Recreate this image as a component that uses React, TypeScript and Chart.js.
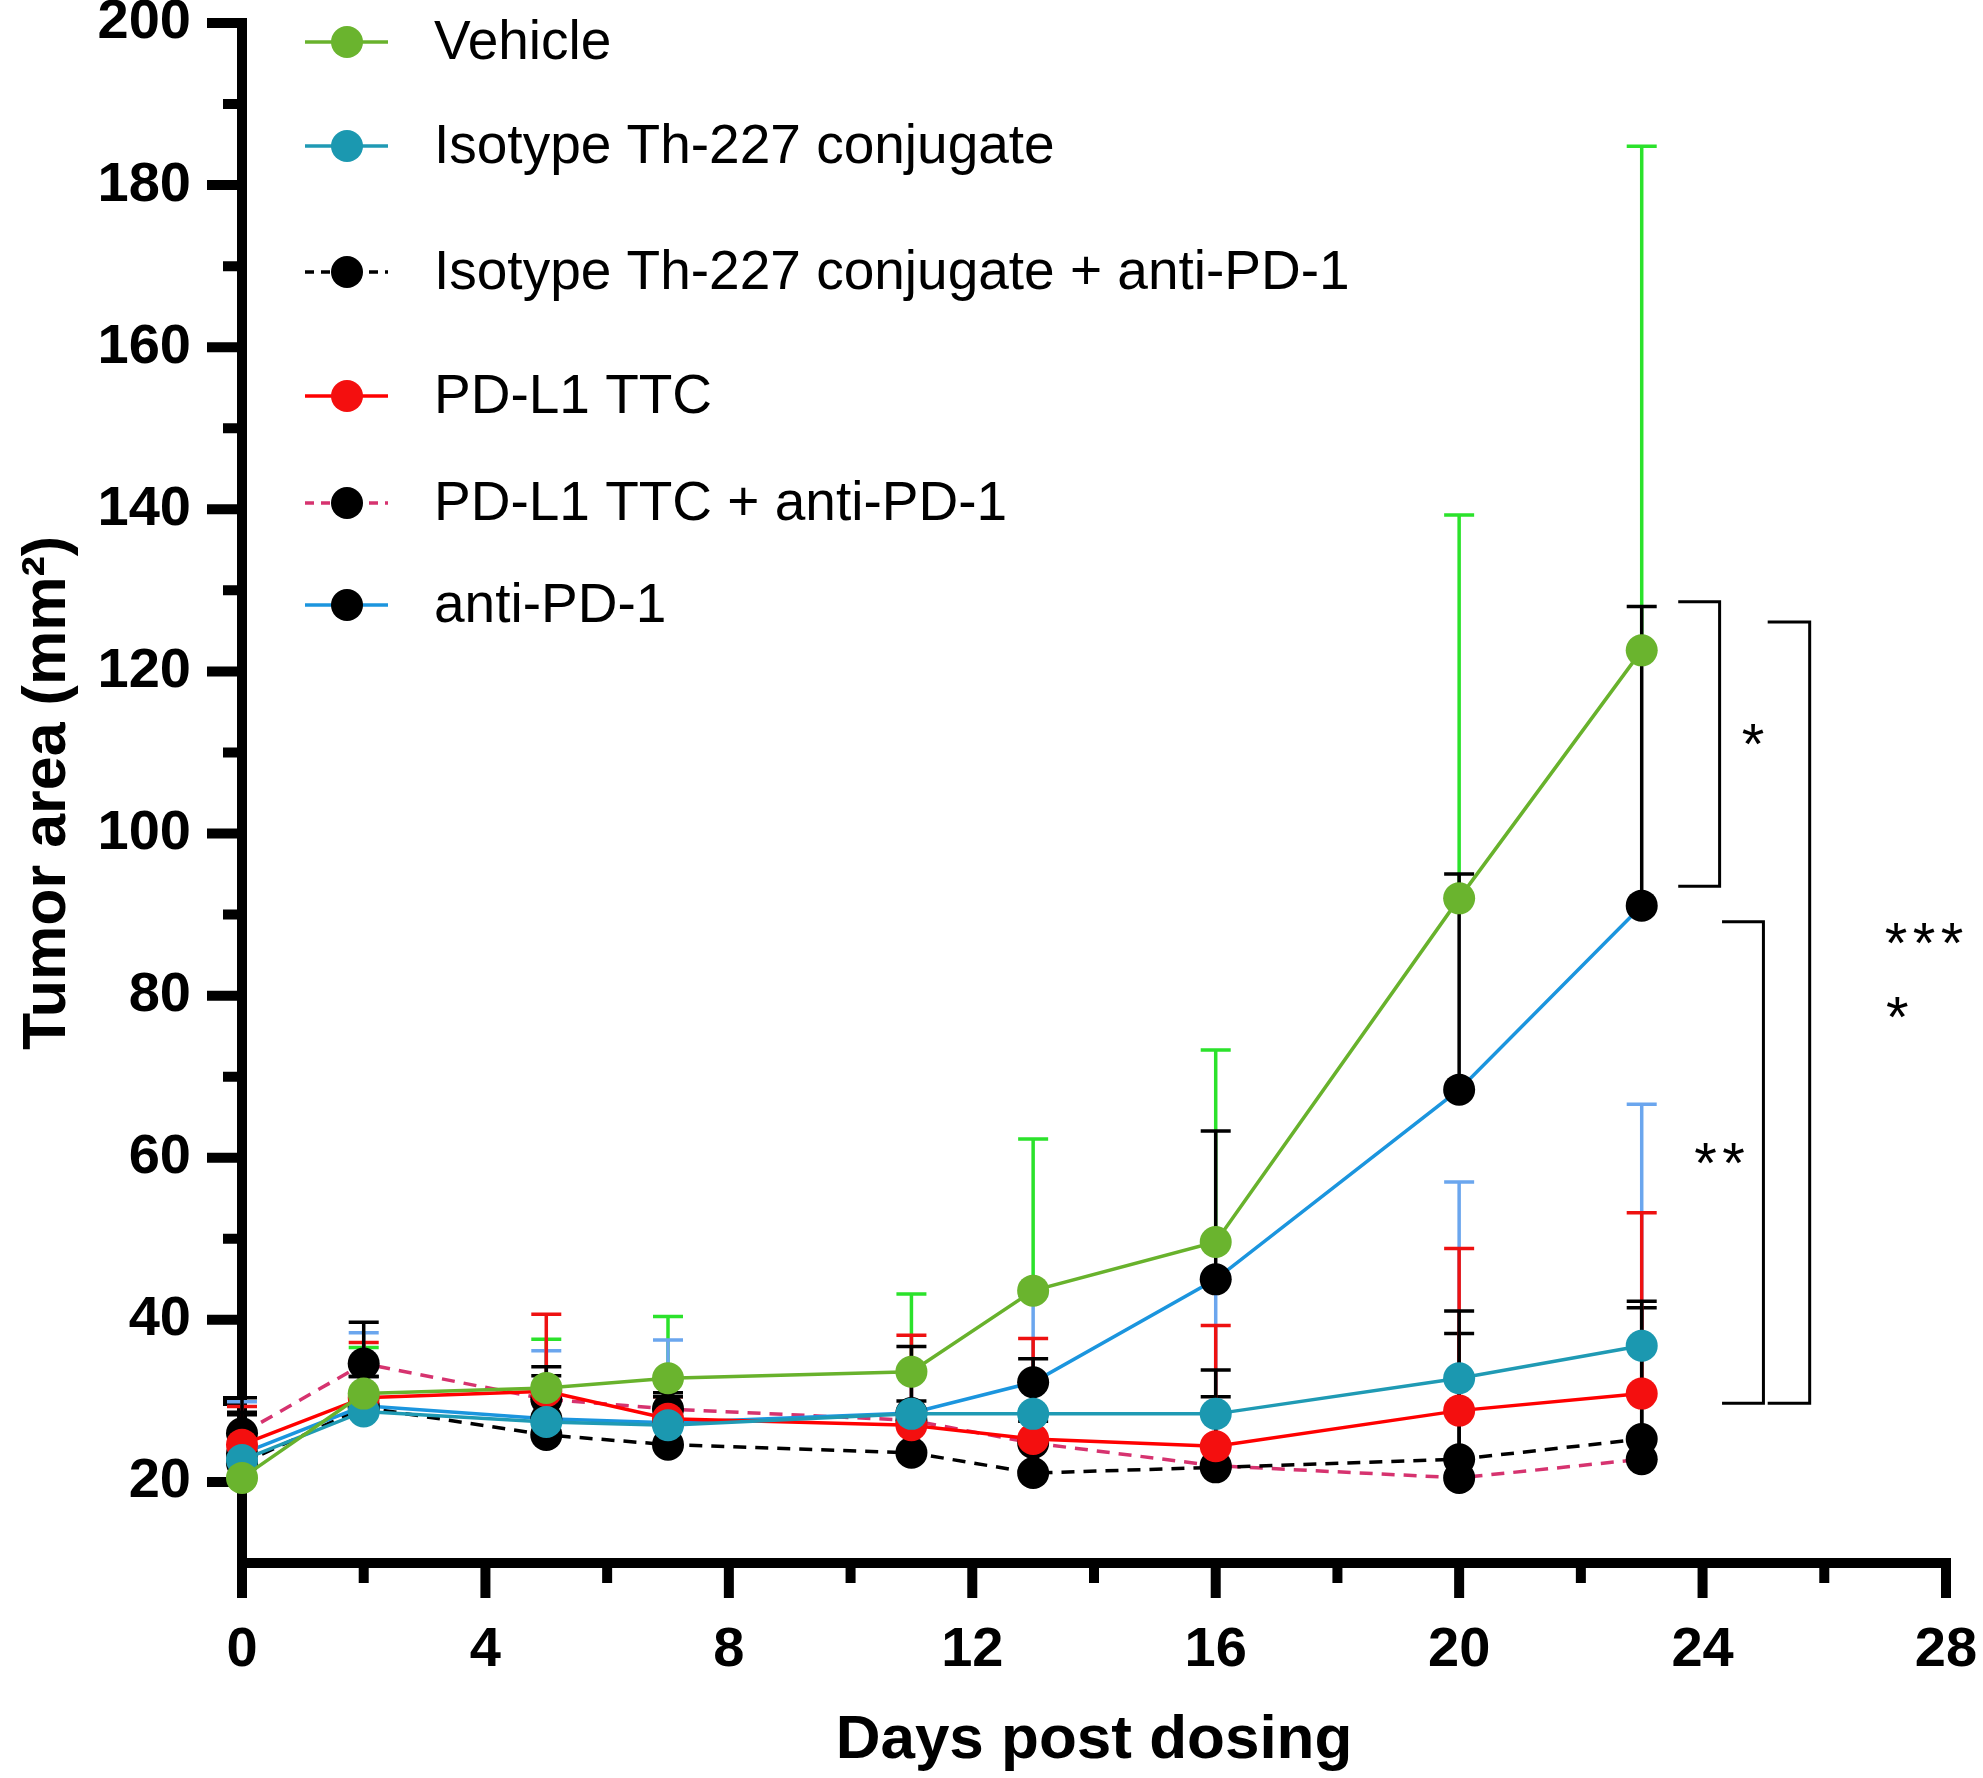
import React, { useEffect, useRef } from "react";
import { Chart, registerables } from "chart.js";

Chart.register(...registerables);

// days after dosing
const days = [0, 2, 5, 7, 11, 13, 16, 20, 23];

const seriesNames = [
  "Vehicle",
  "Isotype Th-227 conjugate",
  "Isotype Th-227 conjugate + anti-PD-1",
  "PD-L1 TTC",
  "PD-L1 TTC + anti-PD-1",
  "anti-PD-1",
];

// mean tumor area (mm2) and top of the error bar
const vehicleMean = [20.5, 30.9, 31.6, 32.8, 33.6, 43.6, 49.6, 92.0, 122.6];
const vehicleUpper = [25.4, 36.6, 37.6, 40.4, 43.2, 62.3, 73.3, 139.3, 184.8];
const isotypeMean = [22.7, 28.7, 27.4, 27.0, 28.4, 28.4, 28.4, 32.8, 36.8];
const isotypeUpper = [29.9, 38.4, 36.2, 37.5, 33.5, 43.0, 45.5, 57.0, 66.6];
const isoAntiMean = [22.3, 29.2, 25.8, 24.6, 23.6, 21.1, 21.8, 22.8, 25.3];
const isoAntiUpper = [28.3, 33.0, 33.1, 28.0, 27.0, 24.5, 30.5, 38.3, 41.5];
const ttcMean = [24.6, 30.4, 31.2, 27.8, 27.0, 25.3, 24.4, 28.8, 30.9];
const ttcUpper = [29.3, 37.2, 40.7, 30.5, 38.1, 37.7, 39.3, 48.8, 53.2];
const ttcAntiMean = [26.0, 34.6, 30.2, 29.0, 27.6, 24.8, 22.0, 20.5, 22.8];
const ttcAntiUpper = [28.6, 39.7, 34.2, 31.0, 30.0, 27.5, 33.8, 41.1, 42.3];
const antiMean = [23.5, 29.4, 27.8, 27.3, 28.5, 32.3, 45.0, 68.4, 91.1];
const antiUpper = [30.4, 33.0, 30.0, 30.5, 36.7, 35.2, 63.3, 95.0, 128.0];

const xTickValues = [0, 4, 8, 12, 16, 20, 24, 28];
const xMinorValues = [2, 6, 10, 14, 18, 22, 26];
const yTickValues = [20, 40, 60, 80, 100, 120, 140, 160, 180, 200];
const yMinorValues = [30, 50, 70, 90, 110, 130, 150, 170, 190];

// significance brackets (x in days, y in mm2) and their stars
const brackets = [
  { x1: 23.6, x2: 24.28, top: 128.6, bottom: 93.5 },
  { x1: 24.32, x2: 25.0, top: 89.1, bottom: 29.7 },
  { x1: 25.07, x2: 25.76, top: 126.1, bottom: 29.7 },
];
const stars = [
  { n: 1, x: 24.83, y: 112.7 },
  { n: 2, x: 24.28, y: 61 },
  { n: 3, x: 27.64, y: 88.1 },
  { n: 1, x: 27.2, y: 79 },
];

const FONT = "'Liberation Sans', Arial, sans-serif";

const toPoints = (vals: number[]) => days.map((d, i) => ({ x: d, y: vals[i] }));

const styles = [
  { line: "#68b22c", dot: "#6ab42e", err: "#2be22b", dash: [] as number[], mean: vehicleMean, upper: vehicleUpper, order: 0 },
  { line: "#1f9ab4", dot: "#1b98b0", err: "#6ba6ee", dash: [], mean: isotypeMean, upper: isotypeUpper, order: 1 },
  { line: "#000000", dot: "#000000", err: "#000000", dash: [13, 9], mean: isoAntiMean, upper: isoAntiUpper, order: 4 },
  { line: "#ff0000", dot: "#f40f0f", err: "#ee1111", dash: [], mean: ttcMean, upper: ttcUpper, order: 2 },
  { line: "#d6336f", dot: "#000000", err: "#000000", dash: [13, 9], mean: ttcAntiMean, upper: ttcAntiUpper, order: 5 },
  { line: "#1b95de", dot: "#000000", err: "#000000", dash: [], mean: antiMean, upper: antiUpper, order: 3 },
];

const axesAndErrors = {
  id: "axesAndErrors",
  beforeDatasetsDraw(chart: any) {
    const { ctx, chartArea, scales } = chart;
    const xs = scales.x;
    const ys = scales.y;
    ctx.save();
    ctx.strokeStyle = "#000";
    ctx.lineCap = "butt";
    // axis lines
    ctx.lineWidth = 10;
    ctx.beginPath();
    ctx.moveTo(chartArea.left, chartArea.top - 5);
    ctx.lineTo(chartArea.left, chartArea.bottom + 5);
    ctx.moveTo(chartArea.left - 5, chartArea.bottom);
    ctx.lineTo(chartArea.right + 5, chartArea.bottom);
    ctx.stroke();
    // ticks
    ctx.beginPath();
    yTickValues.forEach((v) => {
      const y = ys.getPixelForValue(v);
      ctx.moveTo(chartArea.left - 35, y);
      ctx.lineTo(chartArea.left, y);
    });
    yMinorValues.forEach((v) => {
      const y = ys.getPixelForValue(v);
      ctx.moveTo(chartArea.left - 19, y);
      ctx.lineTo(chartArea.left, y);
    });
    xTickValues.forEach((v) => {
      const x = xs.getPixelForValue(v);
      ctx.moveTo(x, chartArea.bottom);
      ctx.lineTo(x, chartArea.bottom + 35);
    });
    xMinorValues.forEach((v) => {
      const x = xs.getPixelForValue(v);
      ctx.moveTo(x, chartArea.bottom);
      ctx.lineTo(x, chartArea.bottom + 20);
    });
    ctx.stroke();
    // error bars (upper only)
    styles.forEach((s) => {
      ctx.strokeStyle = s.err;
      ctx.lineWidth = 3.5;
      ctx.beginPath();
      days.forEach((d, i) => {
        const x = xs.getPixelForValue(d);
        const y0 = ys.getPixelForValue(s.mean[i]);
        const y1 = ys.getPixelForValue(s.upper[i]);
        ctx.moveTo(x, y0);
        ctx.lineTo(x, y1);
        ctx.moveTo(x - 15, y1);
        ctx.lineTo(x + 15, y1);
      });
      ctx.stroke();
    });
    ctx.restore();
  },
  afterDraw(chart: any) {
    const { ctx, scales } = chart;
    const xs = scales.x;
    const ys = scales.y;
    ctx.save();
    // legend
    const rows = [42, 146, 272, 396, 503, 605];
    ctx.font = `55px ${FONT}`;
    ctx.textBaseline = "middle";
    ctx.textAlign = "left";
    styles.forEach((s, i) => {
      const y = rows[i];
      ctx.strokeStyle = s.line;
      ctx.lineWidth = 3.5;
      ctx.setLineDash(s.dash.length ? [9, 7] : []);
      ctx.beginPath();
      ctx.moveTo(305, y);
      ctx.lineTo(388, y);
      ctx.stroke();
      ctx.setLineDash([]);
      ctx.fillStyle = s.dot;
      ctx.beginPath();
      ctx.arc(347, y, 16, 0, Math.PI * 2);
      ctx.fill();
      ctx.fillStyle = "#000";
      ctx.fillText(seriesNames[i], 434, y + 2);
    });
    // brackets
    ctx.strokeStyle = "#000";
    ctx.lineWidth = 3;
    brackets.forEach((b) => {
      const x1 = xs.getPixelForValue(b.x1);
      const x2 = xs.getPixelForValue(b.x2);
      const yt = ys.getPixelForValue(b.top);
      const yb = ys.getPixelForValue(b.bottom);
      ctx.beginPath();
      ctx.moveTo(x1, yt);
      ctx.lineTo(x2, yt);
      ctx.lineTo(x2, yb);
      ctx.lineTo(x1, yb);
      ctx.stroke();
    });
    ctx.font = `58px ${FONT}`;
    ctx.textAlign = "center";
    ctx.textBaseline = "alphabetic";
    stars.forEach((s) => {
      const cx = xs.getPixelForValue(s.x);
      const cy = ys.getPixelForValue(s.y);
      const step = 28;
      for (let k = 0; k < s.n; k++) {
        const x = cx + (k - (s.n - 1) / 2) * step;
        ctx.fillText("*", x, cy + 33);
      }
    });
    ctx.restore();
  },
};

export default function App() {
  const canvasRef = useRef<HTMLCanvasElement>(null);

  useEffect(() => {
    document.body.style.margin = "0";
    const canvas = canvasRef.current;
    if (!canvas) return;
    Chart.defaults.font.family = FONT;
    Chart.defaults.color = "#000";

    const chart = new Chart(canvas, {
      type: "line",
      data: {
        datasets: styles.map((s, i) => ({
          label: seriesNames[i],
          data: toPoints(s.mean),
          borderColor: s.line,
          borderWidth: 3.5,
          borderDash: s.dash,
          backgroundColor: s.dot,
          pointBackgroundColor: s.dot,
          pointBorderWidth: 0,
          pointRadius: 16,
          tension: 0,
          clip: false,
          order: s.order,
        })),
      },
      options: {
        animation: false,
        responsive: false,
        devicePixelRatio: 1,
        events: [],
        layout: { padding: { left: 0, top: 23, right: 37, bottom: 0 } },
        plugins: { legend: { display: false }, tooltip: { enabled: false } },
        scales: {
          x: {
            type: "linear",
            min: 0,
            max: 28,
            grid: { display: false },
            border: { display: false },
            afterBuildTicks: (scale: any) => {
              scale.ticks = xTickValues.map((v) => ({ value: v }));
            },
            afterFit: (scale: any) => {
              scale.height = 215;
              scale.paddingLeft = 0;
              scale.paddingRight = 0;
            },
            ticks: {
              padding: 46,
              maxRotation: 0,
              color: "#000",
              font: { size: 56, weight: "bold", family: FONT },
            },
            title: {
              display: true,
              text: "Days post dosing",
              color: "#000",
              font: { size: 62, weight: "bold", family: FONT },
              padding: { top: 0, bottom: 0 },
            },
          },
          y: {
            type: "linear",
            min: 10,
            max: 200,
            grid: { display: false },
            border: { display: false },
            afterBuildTicks: (scale: any) => {
              scale.ticks = yTickValues.map((v) => ({ value: v }));
            },
            afterFit: (scale: any) => {
              scale.width = 242;
              scale.paddingTop = 0;
              scale.paddingBottom = 0;
            },
            ticks: {
              padding: 43,
              color: "#000",
              font: { size: 56, weight: "bold", family: FONT },
            },
            title: {
              display: true,
              text: "Tumor area (mm²)",
              color: "#000",
              font: { size: 61, weight: "bold", family: FONT },
              padding: { top: 12, bottom: 0 },
            },
          },
        },
      },
      plugins: [axesAndErrors],
    });

    return () => chart.destroy();
  }, []);

  return (
    <div style={{ width: 1983, height: 1778, background: "#fff" }}>
      <canvas ref={canvasRef} width={1983} height={1778} />
    </div>
  );
}
